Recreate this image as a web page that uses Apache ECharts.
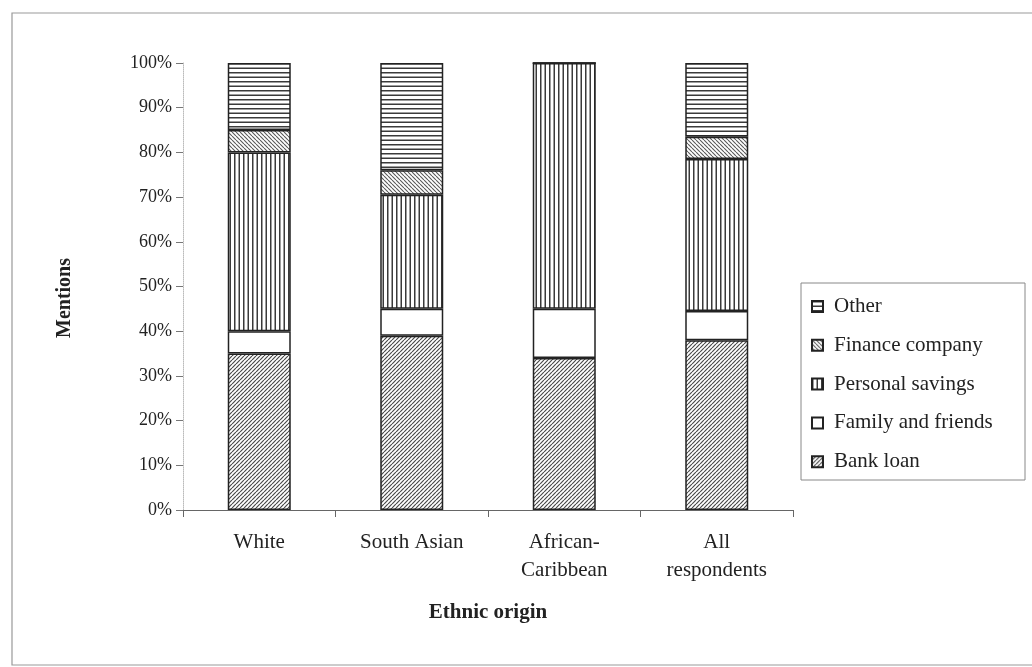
<!DOCTYPE html>
<html>
<head>
<meta charset="utf-8">
<script src="https://cdn.jsdelivr.net/npm/echarts@6/dist/echarts.min.js"></script>
<style>
  html, body { margin: 0; padding: 0; background: #fff; }
  #chart { width: 1032px; height: 667px; }
</style>
</head>
<body>
<div id="chart"></div>
<script>
// Sources of start-up finance by ethnic origin (share of mentions, %)
const categories = ['White', 'South Asian', 'African-\nCaribbean', 'All\nrespondents'];
const bankLoan = [35, 39, 34, 38];
const familyFriends = [5, 6, 11, 6.5];
const personalSavings = [40, 25.5, 55, 34];
const financeCompany = [5, 5.5, 0, 5];
const other = [15, 24, 0, 16.5];
const seriesNames = ['Bank loan', 'Family and friends', 'Personal savings', 'Finance company', 'Other'];
const legendOrder = ['Other', 'Finance company', 'Personal savings', 'Family and friends', 'Bank loan'];

// Hatch fills, drawn on small tiles and repeated
function tile(w, h, draw) {
  const c = document.createElement('canvas');
  c.width = w; c.height = h;
  const ctx = c.getContext('2d');
  ctx.fillStyle = '#fff';
  ctx.fillRect(0, 0, w, h);
  draw(ctx, w, h);
  return { image: c, repeat: 'repeat' };
}
const horizontalLines = tile(4, 9, (ctx, w) => {
  ctx.fillStyle = '#3a3a3a';
  ctx.fillRect(0, 0, w, 1.5);
  ctx.fillRect(0, 4.5, w, 1.5);
});
const verticalLines = tile(9, 4, (ctx, w, h) => {
  ctx.fillStyle = '#3a3a3a';
  ctx.fillRect(0, 0, 1.5, h);
  ctx.fillRect(4.5, 0, 1.5, h);
});
function diagonal(size, color, lw, forward) {
  return tile(size, size, (ctx, s) => {
    ctx.strokeStyle = color;
    ctx.lineWidth = lw;
    ctx.beginPath();
    for (let k = -1; k <= 1; k++) {
      if (forward) {
        ctx.moveTo(k * s, s); ctx.lineTo(k * s + s, 0);
      } else {
        ctx.moveTo(k * s, 0); ctx.lineTo(k * s + s, s);
      }
    }
    ctx.stroke();
  });
}
const bankFill = diagonal(4, '#4a4a4a', 1.2, true);
const financeFill = diagonal(4, '#5a5a5a', 1.1, false);
const fills = [bankFill, '#fff', verticalLines, financeFill, horizontalLines];
const values = [bankLoan, familyFriends, personalSavings, financeCompany, other];

const serif = '"Liberation Serif", "Times New Roman", serif';
const chart = echarts.init(document.getElementById('chart'), null, { renderer: 'canvas' });

chart.setOption({
  backgroundColor: '#fff',
  animation: false,
  graphic: [
    {
      type: 'rect',
      shape: { x: 12, y: 13, width: 1040, height: 652 },
      style: { fill: 'none', stroke: '#999', lineWidth: 1.2 },
      silent: true
    },
    {
      // legend frame
      type: 'rect',
      shape: { x: 801, y: 283, width: 224, height: 197 },
      style: { fill: 'none', stroke: '#888', lineWidth: 1 },
      silent: true
    },
    {
      type: 'text',
      x: 65,
      y: 298,
      rotation: Math.PI / 2,
      style: {
        text: 'Mentions',
        fontFamily: serif, fontSize: 20, fontWeight: 'bold', fill: '#222',
        align: 'center', verticalAlign: 'middle'
      },
      silent: true
    }
  ],
  grid: { left: 183, right: 239, top: 63, bottom: 157 },
  legend: {
    data: legendOrder,
    orient: 'vertical',
    left: 801,
    top: 285,
    padding: [11, 8, 11, 10],
    itemGap: 17.8,
    itemWidth: 11,
    itemHeight: 11,
    icon: 'rect',
    textStyle: { fontFamily: serif, fontSize: 21, color: '#222', lineHeight: 20, padding: [0, 0, 0, 6] }
  },
  xAxis: {
    type: 'category',
    data: categories,
    name: 'Ethnic origin',
    nameLocation: 'middle',
    nameGap: 92,
    nameTextStyle: { fontFamily: serif, fontSize: 21, fontWeight: 'bold', color: '#222' },
    axisLine: { lineStyle: { color: '#666', width: 1.2 } },
    axisTick: { show: true, length: 7, lineStyle: { color: '#666' } },
    axisLabel: { fontFamily: serif, fontSize: 21, color: '#222', lineHeight: 28, margin: 18 }
  },
  yAxis: {
    type: 'value',
    min: 0,
    max: 100,
    interval: 10,
    axisLine: { show: true, lineStyle: { color: '#bbb', type: 'dotted', width: 1 } },
    axisTick: { show: true, length: 7, lineStyle: { color: '#777' } },
    splitLine: { show: false },
    axisLabel: { fontFamily: serif, fontSize: 18, color: '#222', margin: 11, formatter: '{value}%' }
  },
  series: seriesNames.map((name, i) => ({
    name,
    type: 'bar',
    stack: 'total',
    barWidth: 63,
    data: values[i],
    itemStyle: { color: fills[i], borderColor: '#222', borderWidth: 1.5 }
  }))
});
</script>
</body>
</html>
